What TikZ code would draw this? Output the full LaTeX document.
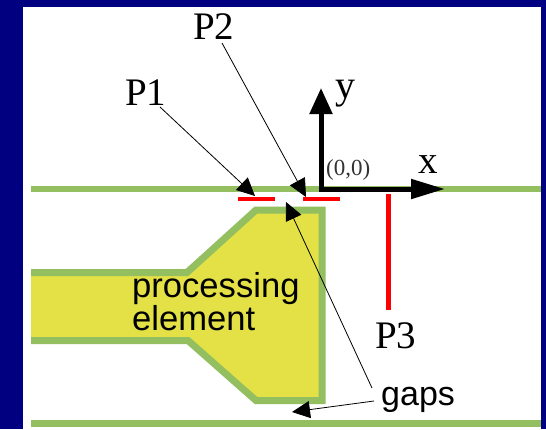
\documentclass[tikz,border=0pt]{standalone}
\usepackage{fontspec}
\setmainfont{Liberation Serif}
\newfontfamily\labelsans{Liberation Sans}
\usetikzlibrary{arrows.meta}
\definecolor{navybg}{HTML}{000080}
\definecolor{wire}{HTML}{93BF60}
\definecolor{elem}{HTML}{E3E146}
\tikzset{
  serif label/.style={inner sep=0pt, anchor=base west, text=black},
  sans label/.style={inner sep=0pt, anchor=base west, text=black, font=\labelsans\fontsize{34.6}{34.6}\selectfont},
  bar/.style={draw=red, line width=4pt},
  wireline/.style={draw=wire, line width=6.5pt},
  thin arrow/.style={draw=black, line width=0.8pt, -{Triangle[length=18pt,width=17pt]}},
  axis arrow x/.style={draw=black, line width=5pt, -{Triangle[length=34pt,width=19pt]}},
  axis arrow y/.style={draw=black, line width=5pt, -{Triangle[length=26pt,width=22pt]}}
}
\begin{document}
\begin{tikzpicture}[x=1pt,y=-1pt]
\useasboundingbox (0,0) rectangle (546,429);
\fill[navybg] (0,0) rectangle (546,429);
\fill[white] (23,7) rectangle (541,429);
% guides
\draw[wireline] (31,189) -- (541,189);
\draw[wireline, line width=7pt] (31,423) -- (541,423);
% processing element
\fill[elem] (31,272.5) -- (187,272.5) -- (256,210) -- (322,210) -- (322,400.5) -- (256,400.5) -- (188,340.5) -- (31,340.5) -- cycle;
\draw[wireline, line width=7pt, line join=miter] (31,272.5) -- (187,272.5) -- (256,210) -- (322,210) -- (322,400.5) -- (256,400.5) -- (188,340.5) -- (31,340.5);
% red bars
\draw[bar] (238,199) -- (275,199);
\draw[bar] (303,199) -- (340,199);
\draw[bar, line width=5pt] (388,194) -- (388,310);
% labels
\node[serif label, font=\fontsize{39}{39}\selectfont] (P1) at (125,105) {P1};
\node[serif label, font=\fontsize{39}{39}\selectfont] (P2) at (193,39) {P2};
\node[serif label, font=\fontsize{39}{39}\selectfont] (P3) at (375,348) {P3};
\node[serif label, font=\fontsize{40}{40}\selectfont] (ylab) at (335,98) {y};
\node[serif label, font=\fontsize{39}{39}\selectfont] (xlab) at (418,173) {x};
\node[serif label, font=\fontsize{23}{23}\selectfont, text=black!80] (orig) at (326,175) {(0,0)};
\node[sans label] (proc) at (132,297) {processing};
\node[sans label] (elemlab) at (132,330) {element};
\node[sans label, font=\labelsans\fontsize{34}{34}\selectfont] (gaps) at (381,405) {gaps};
% connector ends
\coordinate (origin) at (321,189);
\coordinate (xtip) at (445,189);
\coordinate (ytip) at (321,88);
\coordinate (p1tip) at (255,196);
\coordinate (p2tip) at (306,197);
\coordinate (gaptop) at (286,202);
\coordinate (gapbot) at (292,412);
\coordinate (gapfromA) at (372,388);
\coordinate (gapfromB) at (374,401);
\coordinate (p1from) at (160,107);
\coordinate (p2from) at (222,43);
% axes
\draw[axis arrow y] (origin) -- (ytip);
\draw[axis arrow x] ([xshift=-2.5pt]origin) -- (xtip);
% pointers
\draw[thin arrow] (p1from) -- (p1tip);
\draw[thin arrow] (p2from) -- (p2tip);
\draw[thin arrow] (gapfromA) -- (gaptop);
\draw[thin arrow] (gapfromB) -- (gapbot);
\end{tikzpicture}
\end{document}
